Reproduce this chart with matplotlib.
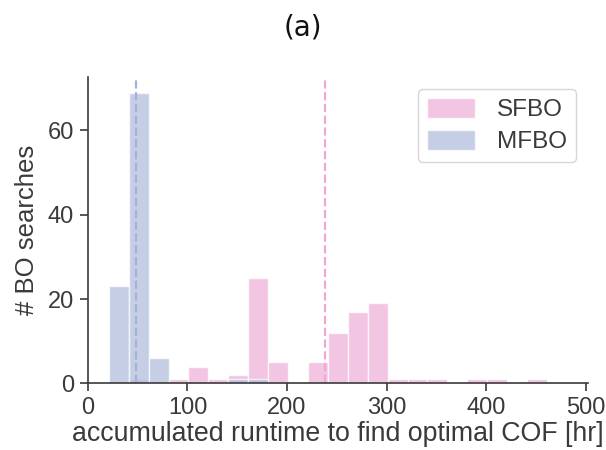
import matplotlib
matplotlib.use("Agg")
import matplotlib.pyplot as plt
import seaborn as sns
import numpy as np

# histogram bins (hr), shared by both methods
bin_edges = np.arange(21, 482, 20)

# number of BO searches per bin
sfbo_counts = [0, 1, 0, 1, 4, 1, 2, 25, 5, 0, 5, 12, 17, 19, 1, 1, 1, 0, 1, 1, 0, 1, 0]
mfbo_counts = [23, 69, 6, 0, 0, 0, 1, 1, 0, 0, 0, 0, 0, 0, 0, 0, 0, 0, 0, 0, 0, 0, 0]

# mean runtime of each method
sfbo_mean = 238
mfbo_mean = 48

labels = ["SFBO", "MFBO"]
colors = ["#eeb0d8", "#b0bbdd"]
line_colors = ["#f2a6d6", "#a6b1d8"]

sns.set_theme(style="ticks")
plt.rcParams["font.family"] = ["Liberation Sans", "DejaVu Sans"]

fig = plt.figure(figsize=(6.06, 4.5), dpi=100)
ax = fig.add_axes([0.145, 0.148, 0.825, 0.681])

widths = np.diff(bin_edges)
for counts, label, color in zip([sfbo_counts, mfbo_counts], labels, colors):
    ax.bar(bin_edges[:-1], counts, width=widths, align="edge", color=color,
           alpha=0.72, edgecolor="white", linewidth=1, label=label)

ax.axvline(sfbo_mean, color=line_colors[0], linestyle="--", linewidth=1.6)
ax.axvline(mfbo_mean, color=line_colors[1], linestyle="--", linewidth=1.6)

ax.set_xlim(0, 502)
ax.set_ylim(0, 72.7)
ax.set_xticks([0, 100, 200, 300, 400, 500])
ax.set_yticks([0, 20, 40, 60])
ax.tick_params(labelsize=17, colors="#3a3a3a", length=6, width=1.2, pad=4)
for s in ["left", "bottom"]:
    ax.spines[s].set_color("#3a3a3a")
    ax.spines[s].set_linewidth(1.2)
sns.despine(ax=ax)

ax.set_xlabel("accumulated runtime to find optimal COF [hr]", fontsize=19.3,
              color="#3a3a3a", labelpad=1)
ax.set_ylabel("# BO searches", fontsize=18.5, color="#3a3a3a", labelpad=6)
fig.text(0.5, 0.938, "(a)", fontsize=20, ha="center", va="center",
         family=["DejaVu Sans"], color="#111111")

leg = ax.legend(fontsize=17.5, loc="upper right", frameon=True, handlelength=2.0,
                handleheight=0.9, borderpad=0.35, labelspacing=0.35,
                handletextpad=0.9, borderaxespad=0.5)
for t in leg.get_texts():
    t.set_color("#3a3a3a")

fig.savefig("out.png", dpi=100)
